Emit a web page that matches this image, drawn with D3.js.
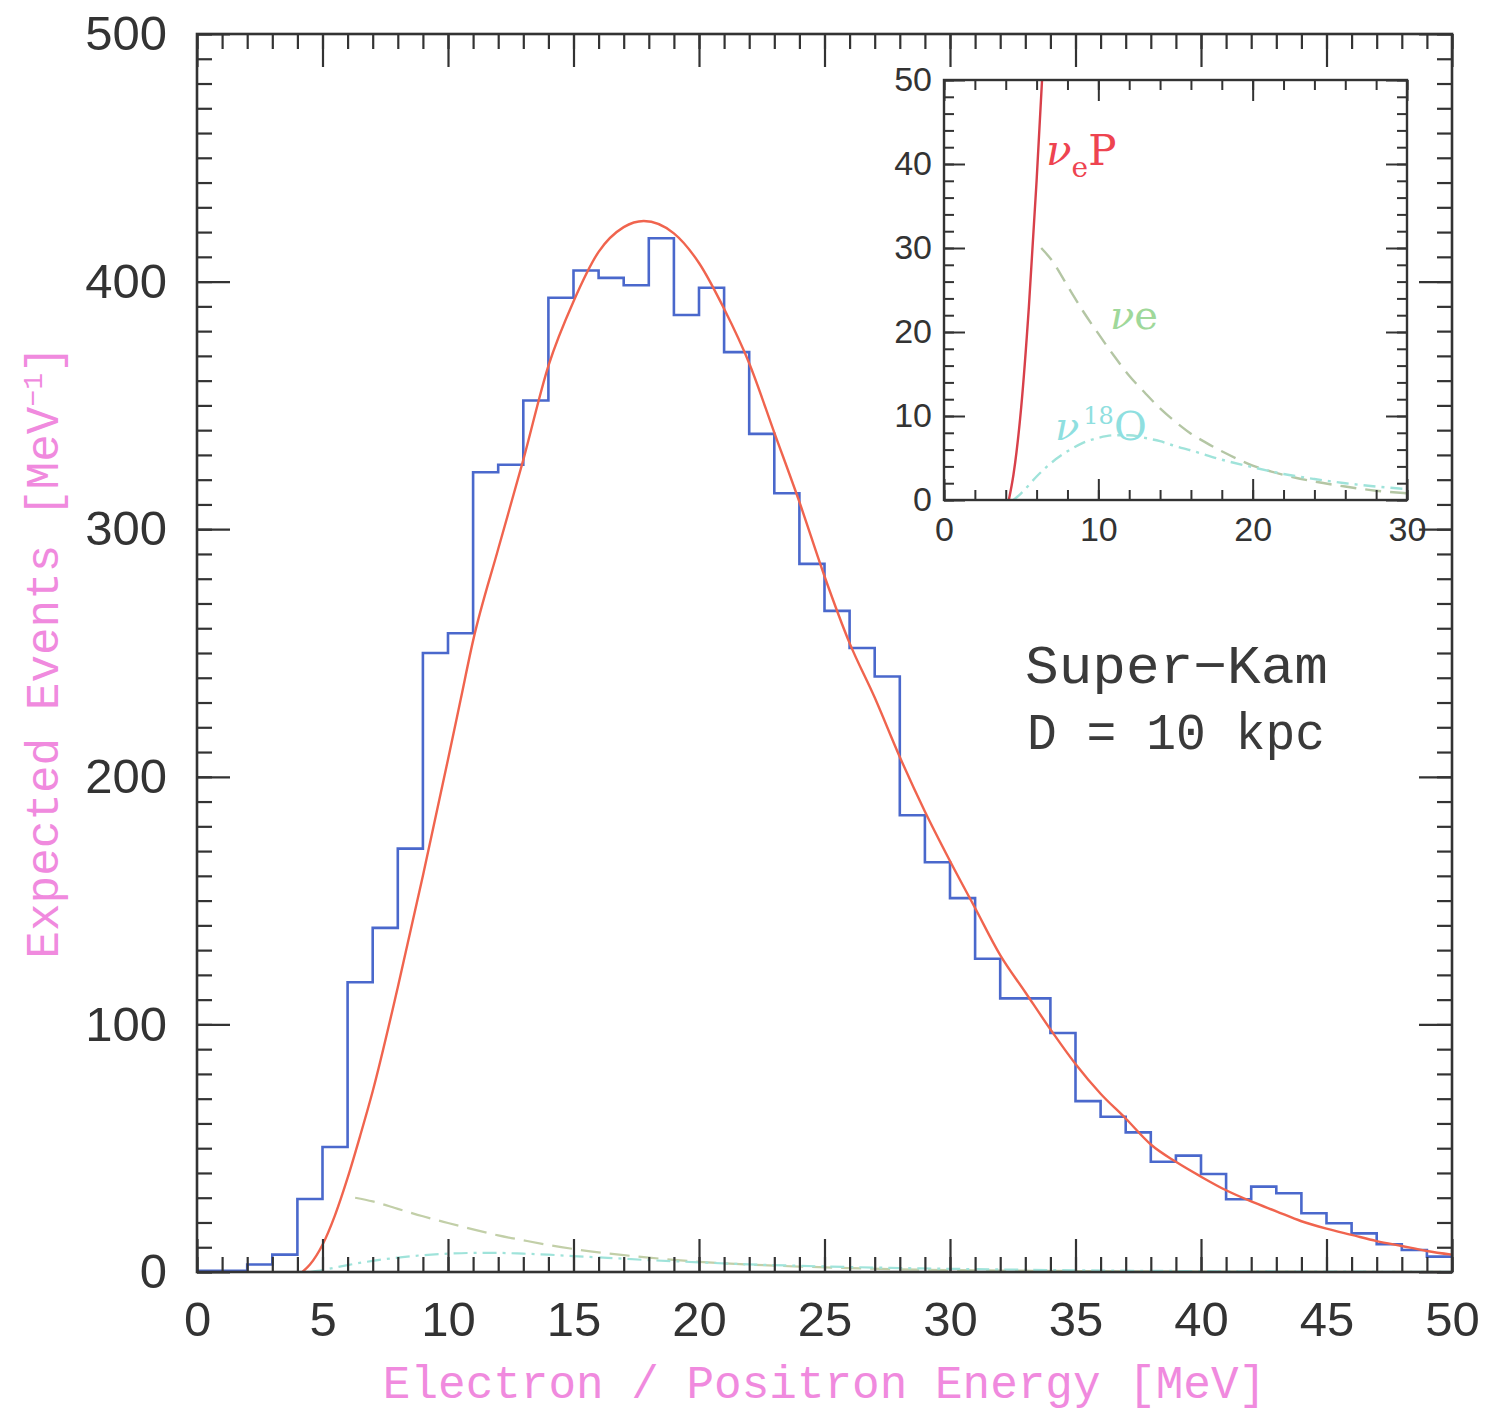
<!DOCTYPE html>
<html>
<head>
<meta charset="utf-8">
<script src="https://cdn.jsdelivr.net/npm/d3@7/dist/d3.min.js"></script>
<style>
  html, body { margin: 0; padding: 0; background: #fff; }
  svg { display: block; }
</style>
</head>
<body>
<script>
// ---------------- DATA ----------------
// Histogram: lower bin edges (MeV) and simulated counts per MeV
const binLow = [0,1,2,3,4,5,6,7,8,9,10,11,12,13,14,15,16,17,18,19,20,21,22,23,24,
                25,26,27,28,29,30,31,32,33,34,35,36,37,38,39,40,41,42,43,44,45,46,47,48,49];
const binWidth = 1;
const histCounts = [0.5,0.5,3,7,29.5,50.5,117,139,171,250,258,323,326,352,393.5,404.5,401.5,398.5,417.5,386.5,
                    397.5,371.5,338.5,314.5,286,267,252,240.5,184.5,165.5,151,126.5,110.5,110.5,96.5,
                    69,62.7,56.4,44.5,47,39.6,29.4,34.5,31.8,23.7,19.7,15.6,11.2,8.9,6.2];

// Smooth expectation (nu_e-bar p)
const nuepE = [4.2,4.5,5,5.5,6,6.5,7,8,9,10,10.5,11,12,13,14,15,16,17,17.8,19,20,21,22,23,24,25,26,27,28,29,30,
               31,32,33,34,35,36,37,38,39,40,41,42,43,44,45,46,47,48,49,50];
const nuepV = [0,3,11,23,38,55,73,115,160,207,231,255,292,328,366,392,412,422,424.5,419.5,407.5,389,367,339,311,
               281,254,232,208,186,166,147,128,113,98,84,72,62,51.5,44.5,38.5,33,28.5,24.5,20.5,17.5,15,12.5,10.5,8.5,7];

// nu e elastic scattering (dashed)
const nueE = [6.3,7,8,9,10,11,12,13,14,15,16,17,18,19,20,22,24,26,28,30,35,40,45,50];
const nueV = [30,28.5,25.5,22.5,19.8,17.2,14.8,12.8,10.9,9.3,7.9,6.8,5.8,4.9,4.1,3.0,2.2,1.6,1.1,0.8,0.4,0.2,0.1,0.05];

// nu 18O (dash-dot)
const oxyE = [4.5,5,6,7,8,9,10,11,12,13,14,15,16,18,20,22,24,26,28,30,35,40,45,50];
const oxyV = [0,0.8,2.8,4.5,5.8,6.8,7.4,7.7,7.7,7.4,7.0,6.4,5.9,4.8,3.9,3.1,2.5,2.0,1.6,1.3,0.7,0.35,0.15,0.08];

// Tick values / labels
const mainXTicks = [0,5,10,15,20,25,30,35,40,45,50];
const mainYTicks = [0,100,200,300,400,500];
const insetXTicks = [0,10,20,30];
const insetYTicks = [0,10,20,30,40,50];

// Text
const xTitle = "Electron / Positron Energy [MeV]";
const yTitle = "Expected Events [MeV";
const annot1 = "Super\u2212Kam";
const annot2 = "D = 10 kpc";

// ---------------- LAYOUT ----------------
const W = 1499, H = 1414;
const M = {left: 197, top: 34, right: 1452, bottom: 1272};
const I = {left: 944, top: 80, right: 1407, bottom: 500};

const svg = d3.select("body").append("svg").attr("width", W).attr("height", H)
  .style("background", "#fff");

const frameColor = "#333";
const tickFont = "'Liberation Sans', Arial, sans-serif";
const monoFont = "'Liberation Mono', 'DejaVu Sans Mono', monospace";
const pink = "#f08ade";

// main scales
const x = d3.scaleLinear().domain([0, 50]).range([M.left, M.right]);
const y = d3.scaleLinear().domain([0, 500]).range([M.bottom, M.top]);

const defs = svg.append("defs");
defs.append("clipPath").attr("id", "clipMain").append("rect")
  .attr("x", M.left).attr("y", M.top).attr("width", M.right - M.left).attr("height", M.bottom - M.top);
defs.append("clipPath").attr("id", "clipInset").append("rect")
  .attr("x", I.left).attr("y", I.top).attr("width", I.right - I.left).attr("height", I.bottom - I.top);

function styleAxis(g, sw) {
  g.select(".domain").remove();
  g.selectAll(".tick line").attr("stroke", frameColor).attr("stroke-width", sw);
}

function drawAxes(xs, ys, box, o) {
  const xMinor = d3.range(xs.domain()[0], xs.domain()[1] + 1e-9, o.xMinorStep);
  const yMinor = d3.range(ys.domain()[0], ys.domain()[1] + 1e-9, o.yMinorStep);
  // minor ticks
  [
    [d3.axisBottom(xs).tickValues(xMinor).tickSize(-o.minor).tickFormat(""), `translate(0,${box.bottom})`],
    [d3.axisTop(xs).tickValues(xMinor).tickSize(-o.minor).tickFormat(""), `translate(0,${box.top})`],
    [d3.axisLeft(ys).tickValues(yMinor).tickSize(-o.minor).tickFormat(""), `translate(${box.left},0)`],
    [d3.axisRight(ys).tickValues(yMinor).tickSize(-o.minor).tickFormat(""), `translate(${box.right},0)`]
  ].forEach(([ax, tr]) => svg.append("g").attr("transform", tr).call(ax).call(g => styleAxis(g, o.sw)));
  // major ticks with labels
  const gb = svg.append("g").attr("transform", `translate(0,${box.bottom})`)
    .call(d3.axisBottom(xs).tickValues(o.xTicks).tickSize(-o.major).tickPadding(o.xPad).tickFormat(d3.format("d")));
  styleAxis(gb, o.sw);
  gb.selectAll("text").attr("font-family", tickFont).attr("font-size", o.fs).attr("fill", "#333");
  const gl = svg.append("g").attr("transform", `translate(${box.left},0)`)
    .call(d3.axisLeft(ys).tickValues(o.yTicks).tickSize(-o.major).tickPadding(o.yPad).tickFormat(d3.format("d")));
  styleAxis(gl, o.sw);
  gl.selectAll("text").attr("font-family", tickFont).attr("font-size", o.fs).attr("fill", "#333");
  svg.append("g").attr("transform", `translate(0,${box.top})`)
    .call(d3.axisTop(xs).tickValues(o.xTicks).tickSize(-o.major).tickFormat(""))
    .call(g => styleAxis(g, o.sw));
  svg.append("g").attr("transform", `translate(${box.right},0)`)
    .call(d3.axisRight(ys).tickValues(o.yTicks).tickSize(-o.major).tickFormat(""))
    .call(g => styleAxis(g, o.sw));
  // frame
  svg.append("rect").attr("x", box.left).attr("y", box.top)
    .attr("width", box.right - box.left).attr("height", box.bottom - box.top)
    .attr("fill", "none").attr("stroke", frameColor).attr("stroke-width", o.frame);
}

// ---------------- MAIN PLOT ----------------
const plot = svg.append("g").attr("clip-path", "url(#clipMain)");

const pts = (E, V) => E.map((e, i) => [e, V[i]]);
const histPts = binLow.map((b, i) => [b, histCounts[i]]);
histPts.push([binLow[binLow.length - 1] + binWidth, histCounts[histCounts.length - 1]]);

const lineMain = d3.line().x(d => x(d[0])).y(d => y(d[1]));

// nu e dashed
plot.append("path").datum(pts(nueE, nueV))
  .attr("d", lineMain.curve(d3.curveMonotoneX))
  .attr("fill", "none").attr("stroke", "#c2cfa8").attr("stroke-width", 2.2)
  .attr("stroke-dasharray", "20,9");
// nu 18O dash-dot
plot.append("path").datum(pts(oxyE, oxyV))
  .attr("d", lineMain.curve(d3.curveMonotoneX))
  .attr("fill", "none").attr("stroke", "#9fe3da").attr("stroke-width", 2.2)
  .attr("stroke-dasharray", "14,6,3,6");

// histogram
plot.append("path").datum(histPts)
  .attr("d", d3.line().x(d => x(d[0])).y(d => y(d[1])).curve(d3.curveStepAfter))
  .attr("fill", "none").attr("stroke", "#4a68cc").attr("stroke-width", 2.6);

// smooth expectation
plot.append("path").datum(pts(nuepE, nuepV))
  .attr("d", d3.line().x(d => x(d[0])).y(d => y(d[1])).curve(d3.curveMonotoneX))
  .attr("fill", "none").attr("stroke", "#f0644e").attr("stroke-width", 2.4);

drawAxes(x, y, M, {xMinorStep: 1, yMinorStep: 10, minor: 15, major: 33, sw: 2.2, frame: 2.6,
  xTicks: mainXTicks, yTicks: mainYTicks, xPad: 29, yPad: 30, fs: 49});

// axis titles
svg.append("text").attr("x", (M.left + M.right) / 2 + 0).attr("y", 1398)
  .attr("text-anchor", "middle").attr("font-family", monoFont).attr("font-size", 46)
  .attr("fill", pink).text(xTitle);

const yt = svg.append("text").attr("transform", `translate(58, 652) rotate(-90)`)
  .attr("text-anchor", "middle").attr("font-family", monoFont).attr("font-size", 46)
  .attr("fill", pink);
yt.append("tspan").text(yTitle);
yt.append("tspan").attr("font-size", 28).attr("dy", -16).text("\u22121");
yt.append("tspan").attr("dy", 16).text("]");

// annotations
svg.append("text").attr("x", 1025).attr("y", 683).attr("font-family", monoFont)
  .attr("font-size", 54).attr("fill", "#3a3a3a").attr("textLength", 303).attr("lengthAdjust", "spacingAndGlyphs")
  .text(annot1);
svg.append("text").attr("x", 1027).attr("y", 749).attr("font-family", monoFont)
  .attr("font-size", 52).attr("fill", "#3a3a3a").attr("textLength", 298).attr("lengthAdjust", "spacingAndGlyphs")
  .text(annot2);

// ---------------- INSET ----------------
const xi = d3.scaleLinear().domain([0, 30]).range([I.left, I.right]);
const yi = d3.scaleLinear().domain([0, 50]).range([I.bottom, I.top]);

svg.append("rect").attr("x", I.left).attr("y", I.top).attr("width", I.right - I.left)
  .attr("height", I.bottom - I.top).attr("fill", "#fff");

const inset = svg.append("g").attr("clip-path", "url(#clipInset)");
const lineInset = d3.line().x(d => xi(d[0])).y(d => yi(d[1])).curve(d3.curveMonotoneX);

inset.append("path").datum(pts(nueE, nueV)).attr("d", lineInset)
  .attr("fill", "none").attr("stroke", "#b4c6a4").attr("stroke-width", 2.4)
  .attr("stroke-dasharray", "16,9");
inset.append("path").datum(pts(oxyE, oxyV)).attr("d", lineInset)
  .attr("fill", "none").attr("stroke", "#9fe3da").attr("stroke-width", 2.4)
  .attr("stroke-dasharray", "12,6,3,6");
inset.append("path").datum(pts(nuepE, nuepV)).attr("d", lineInset)
  .attr("fill", "none").attr("stroke", "#d8404a").attr("stroke-width", 2.4);

drawAxes(xi, yi, I, {xMinorStep: 2, yMinorStep: 2, minor: 10, major: 21, sw: 2, frame: 2.4,
  xTicks: insetXTicks, yTicks: insetYTicks, xPad: 17, yPad: 12, fs: 34});

// inset labels
const serif = "'DejaVu Serif', 'Liberation Serif', serif";
const l1 = svg.append("text").attr("x", 1046).attr("y", 165).attr("font-family", serif)
  .attr("font-size", 42).attr("fill", "#ee4450");
l1.append("tspan").attr("font-style", "italic").text("\u03bd");
l1.append("tspan").attr("font-size", 28).attr("dy", 12).text("e");
l1.append("tspan").attr("dy", -12).text("P");

const l2 = svg.append("text").attr("x", 1110).attr("y", 329).attr("font-family", serif)
  .attr("font-size", 40).attr("fill", "#9fd89a");
l2.append("tspan").attr("font-style", "italic").text("\u03bd");
l2.append("tspan").text("e");

const l3 = svg.append("text").attr("x", 1055).attr("y", 440).attr("font-family", serif)
  .attr("font-size", 40).attr("fill", "#8fdfe0");
l3.append("tspan").attr("font-style", "italic").text("\u03bd");
l3.append("tspan").attr("font-size", 24).attr("dy", -16).attr("dx", 4).text("18");
l3.append("tspan").attr("dy", 16).text("O");
</script>
</body>
</html>
